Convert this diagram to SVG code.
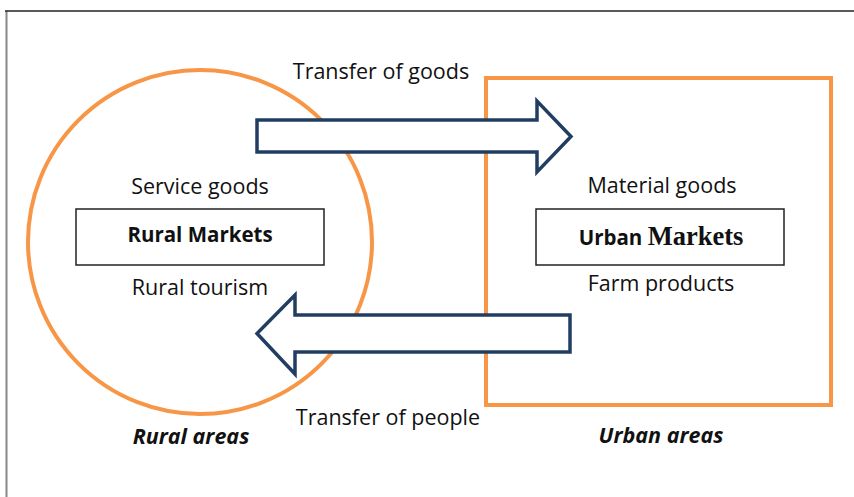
<svg xmlns="http://www.w3.org/2000/svg" width="854" height="497" viewBox="0 0 854 497">
<style>
.t{font-family:"Open Sans","Liberation Sans",sans-serif;font-size:21.5px;fill:#111;text-anchor:middle}
.b{font-weight:bold;font-size:20.5px}
.bi{font-weight:bold;font-style:italic;font-size:21.5px}
.area{fill:none;stroke:#F79646;stroke-width:4}
.box{fill:#fff;stroke:#222;stroke-width:1.5}
.arrow{fill:#fff;stroke:#213E62;stroke-width:3.5;stroke-linejoin:miter}
</style>
<rect x="0" y="0" width="854" height="497" fill="#fff"/>
<g id="frame">
<line x1="6.5" y1="11" x2="6.5" y2="497" stroke="#888" stroke-width="2"/>
<line x1="5" y1="11" x2="854" y2="11" stroke="#222" stroke-width="1.5"/>
</g>
<g id="rural-area">
<circle class="area" cx="200" cy="242" r="172"/>
<text class="t bi" x="191" y="444">Rural areas</text>
</g>
<g id="urban-area">
<rect class="area" x="486" y="78" width="345" height="327"/>
<text class="t bi" x="661" y="443">Urban areas</text>
</g>
<g id="connectors">
<path id="goods-arrow" class="arrow" d="M257,120 H537 V101 L571,136.5 L537,172 V152 H257 Z"/>
<text class="t" x="381" y="79">Transfer of goods</text>
<path id="people-arrow" class="arrow" d="M570,315 H295 V295 L257,333.5 L295,374 V352 H570 Z"/>
<text class="t" x="388" y="425">Transfer of people</text>
</g>
<g id="rural-markets">
<text class="t" x="200" y="194">Service goods</text>
<rect class="box" x="76" y="209" width="248" height="56"/>
<text class="t b" x="200" y="242">Rural Markets</text>
<text class="t" x="200" y="295">Rural tourism</text>
</g>
<g id="urban-markets">
<text class="t" x="662" y="193">Material goods</text>
<rect class="box" x="536" y="209" width="248" height="56"/>
<text class="t b" x="661" y="245" font-size="21.5">Urban <tspan font-family="'Liberation Serif',serif" font-size="26.5">Markets</tspan></text>
<text class="t" x="661" y="291">Farm products</text>
</g>
</svg>
